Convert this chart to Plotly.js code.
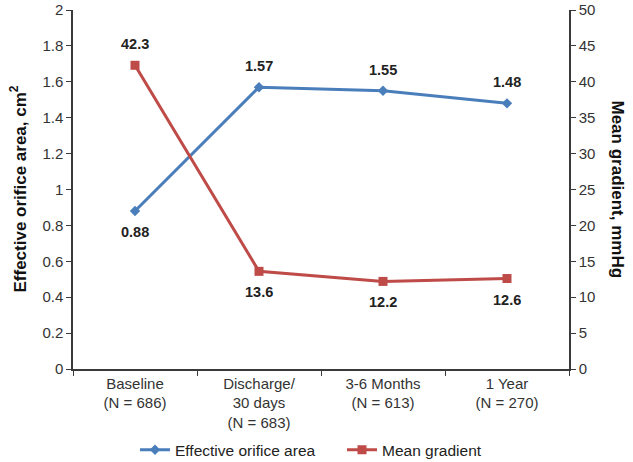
<!DOCTYPE html>
<html>
<head>
<meta charset="utf-8">
<script src="https://cdn.plot.ly/plotly-3.0.1.min.js"></script>
<style>
  html, body { margin: 0; padding: 0; background: #fff; }
  #chart { width: 633px; height: 462px; }
</style>
</head>
<body>
<div id="chart"></div>
<script>
// categorias y valores
const categories = ['Baseline<br>(N = 686)', 'Discharge/<br>30 days<br>(N = 683)', '3-6 Months<br>(N = 613)', '1 Year<br>(N = 270)'];
const eoa = [0.88, 1.57, 1.55, 1.48];
const gradient = [42.3, 13.6, 12.2, 12.6];
const eoaLabelPos = ['below', 'above', 'above', 'above'];
const gradLabelPos = ['above', 'below', 'below', 'below'];

const blue = '#4A7EBB';
const red = '#BE4B48';
const axisColor = '#3a3a3a';
const font = 'Liberation Sans, Arial, sans-serif';

const traceEoa = {
  x: categories, y: eoa,
  name: 'Effective orifice area',
  type: 'scatter', mode: 'lines+markers',
  line: {color: blue, width: 3},
  marker: {color: blue, symbol: 'diamond', size: 8},
  yaxis: 'y'
};

const traceGrad = {
  x: categories, y: gradient,
  name: 'Mean gradient',
  type: 'scatter', mode: 'lines+markers',
  line: {color: red, width: 3},
  marker: {color: red, symbol: 'square', size: 9},
  yaxis: 'y2'
};

// etiquetas de valor
const annotations = [];
eoa.forEach((v, i) => {
  annotations.push({
    x: categories[i], y: v, xref: 'x', yref: 'y',
    text: '<b>' + v.toFixed(2) + '</b>', showarrow: false,
    yshift: eoaLabelPos[i] === 'above' ? 21 : -21,
    font: {size: 14.5, color: '#222', family: font}
  });
});
gradient.forEach((v, i) => {
  annotations.push({
    x: categories[i], y: v, xref: 'x', yref: 'y2',
    text: '<b>' + v.toFixed(1) + '</b>', showarrow: false,
    yshift: gradLabelPos[i] === 'above' ? 21 : -21,
    font: {size: 14.5, color: '#222', family: font}
  });
});
// titulos de ejes como anotaciones (el derecho se lee de arriba hacia abajo)
annotations.push({
  x: 0, y: 0.5, xref: 'paper', yref: 'paper',
  xshift: -55, xanchor: 'center', yanchor: 'middle', textangle: -90, showarrow: false,
  text: '<b>Effective orifice area, cm<sup>2</sup></b>',
  font: {size: 17, color: '#111', family: font}
});
annotations.push({
  x: 1, y: 0.5, xref: 'paper', yref: 'paper',
  xshift: 48, xanchor: 'center', yanchor: 'middle', textangle: 90, showarrow: false,
  text: '<b>Mean gradient, mmHg</b>',
  font: {size: 17, color: '#111', family: font}
});

const layout = {
  width: 633, height: 462,
  margin: {t: 10, r: 64, l: 73, b: 93, autoexpand: false},
  paper_bgcolor: '#fff', plot_bgcolor: '#fff',
  font: {family: font, color: '#333', size: 15},
  showlegend: true,
  legend: {orientation: 'h', x: 0.125, xanchor: 'left', y: -0.226, yanchor: 'middle',
           font: {size: 15.5, color: '#222'}, entrywidth: 162, tracegroupgap: 0},
  xaxis: {
    type: 'category', showgrid: false, zeroline: false,
    showline: true, linecolor: axisColor, linewidth: 1.5,
    ticks: 'outside', ticklen: 5, tickcolor: axisColor, tickson: 'boundaries',
    tickfont: {size: 15, color: '#333'}, range: [-0.5, 3.5]
  },
  yaxis: {
    range: [0, 2], dtick: 0.2, showgrid: false, zeroline: false,
    showline: true, linecolor: axisColor, linewidth: 1.5,
    ticks: 'outside', ticklen: 5, tickcolor: axisColor,
    tickfont: {size: 15, color: '#333'}
  },
  yaxis2: {
    range: [0, 50], dtick: 5, overlaying: 'y', side: 'right',
    showgrid: false, zeroline: false,
    showline: true, linecolor: axisColor, linewidth: 1.5,
    ticks: 'outside', ticklen: 5, tickcolor: axisColor,
    tickfont: {size: 15, color: '#333'}
  },
  annotations: annotations
};

Plotly.newPlot('chart', [traceEoa, traceGrad], layout, {displayModeBar: false});
</script>
</body>
</html>
